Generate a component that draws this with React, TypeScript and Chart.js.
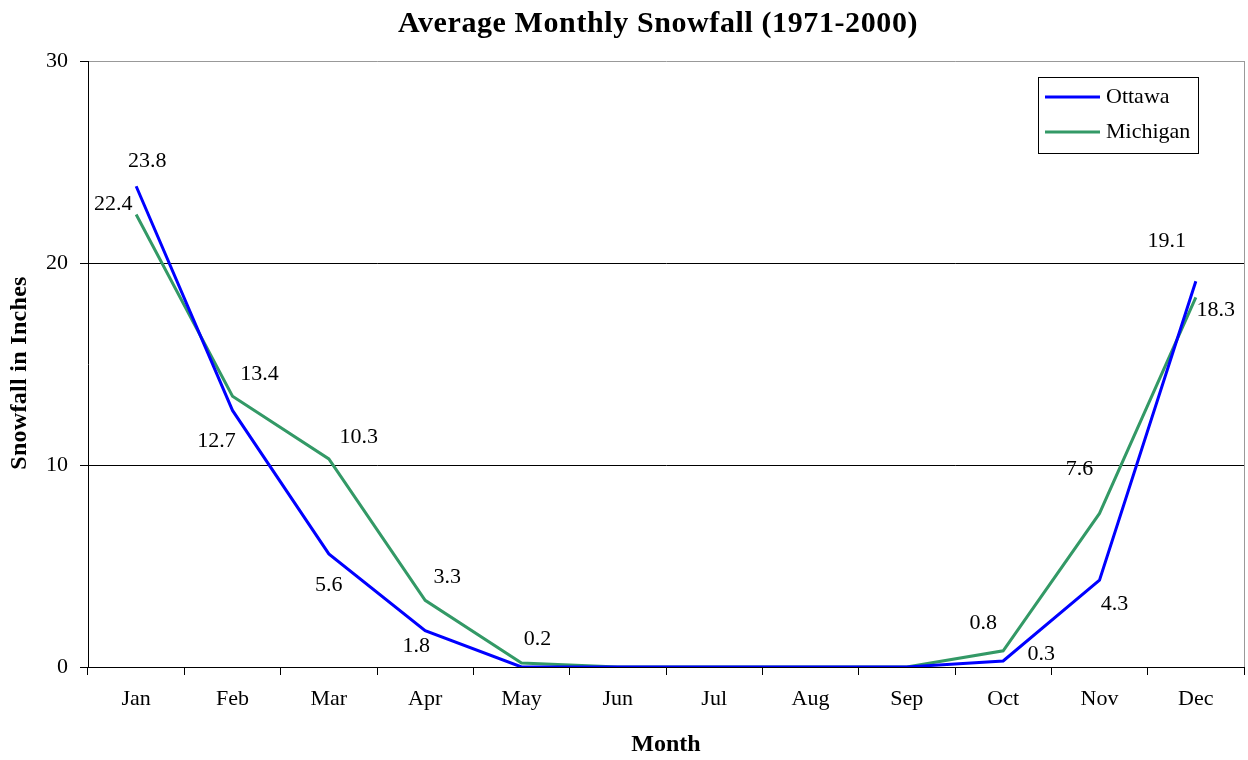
import React, { useEffect, useRef } from "react";
import { Chart, registerables } from "chart.js";

Chart.register(...registerables);

const months = ["Jan", "Feb", "Mar", "Apr", "May", "Jun", "Jul", "Aug", "Sep", "Oct", "Nov", "Dec"];
const ottawa = [23.8, 12.7, 5.6, 1.8, 0, 0, 0, 0, 0, 0.3, 4.3, 19.1];
const michigan = [22.4, 13.4, 10.3, 3.3, 0.2, 0, 0, 0, 0, 0.8, 7.6, 18.3];
const yTicks = [0, 10, 20, 30];

// label offsets (dx, dy) relative to each point; null = no label
const ottawaLabelOffsets: ([number, number] | null)[] = [
  [11, -25], [-16, 31], [0, 31], [-9, 16], null, null, null, null, null, [38, -7], [15, 24], [-29, -40],
];
const michiganLabelOffsets: ([number, number] | null)[] = [
  [-23, -10], [27, -22], [30, -22], [22, -23], [16, -24], null, null, null, null, [-20, -28], [-20, -44], [20, 13],
];

const SERIF = "'Liberation Serif', 'Times New Roman', serif";

const decorPlugin = {
  id: "decor",
  afterDraw(chart: any) {
    const ctx = chart.ctx;
    const ca = chart.chartArea;
    ctx.save();
    // right border
    ctx.strokeStyle = "#999";
    ctx.lineWidth = 1;
    ctx.beginPath();
    ctx.moveTo(Math.round(ca.right) + 0.5, ca.top);
    ctx.lineTo(Math.round(ca.right) + 0.5, ca.bottom);
    ctx.stroke();

    // data labels
    ctx.fillStyle = "#000";
    ctx.font = `22px ${SERIF}`;
    ctx.textAlign = "center";
    ctx.textBaseline = "middle";
    const offsetsList = [ottawaLabelOffsets, michiganLabelOffsets];
    chart.data.datasets.forEach((ds: any, di: number) => {
      const meta = chart.getDatasetMeta(di);
      meta.data.forEach((pt: any, i: number) => {
        const off = offsetsList[di][i];
        if (!off) return;
        ctx.fillText(String(ds.data[i]), pt.x + off[0], pt.y + off[1]);
      });
    });

    // legend
    const lx = 1038.5, ly = 77.5, lw = 160, lh = 76;
    ctx.strokeStyle = "#000";
    ctx.lineWidth = 1;
    ctx.strokeRect(lx, ly, lw, lh);
    chart.data.datasets.forEach((ds: any, di: number) => {
      const y = 97 + di * 35;
      ctx.strokeStyle = ds.borderColor;
      ctx.lineWidth = 3;
      ctx.beginPath();
      ctx.moveTo(1045, y);
      ctx.lineTo(1100, y);
      ctx.stroke();
      ctx.fillStyle = "#000";
      ctx.font = `22px ${SERIF}`;
      ctx.textAlign = "left";
      ctx.textBaseline = "middle";
      ctx.fillText(ds.label, 1106, y);
    });

    // titles
    ctx.fillStyle = "#000";
    ctx.textAlign = "center";
    ctx.textBaseline = "middle";
    ctx.font = `bold 30px ${SERIF}`;
    (ctx as any).letterSpacing = "0.6px";
    ctx.fillText("Average Monthly Snowfall (1971-2000)", 658, 24);
    ctx.font = `bold 24px ${SERIF}`;
    (ctx as any).letterSpacing = "0px";
    ctx.fillText("Month", 666, 745);
    (ctx as any).letterSpacing = "0.3px";
    ctx.translate(20, 373);
    ctx.rotate(-Math.PI / 2);
    ctx.fillText("Snowfall in Inches", 0, 0);
    (ctx as any).letterSpacing = "0px";
    ctx.restore();
  },
};

export default function App() {
  const ref = useRef<HTMLCanvasElement | null>(null);
  useEffect(() => {
    document.body.style.margin = "0";
    const canvas = ref.current!;
    const chart = new Chart(canvas, {
      type: "line",
      data: {
        labels: months,
        datasets: [
          { label: "Ottawa", data: ottawa, borderColor: "#0000FF", borderWidth: 3, pointRadius: 0, tension: 0, fill: false },
          { label: "Michigan", data: michigan, borderColor: "#339966", borderWidth: 3, pointRadius: 0, tension: 0, fill: false },
        ],
      },
      options: {
        animation: false,
        responsive: false,
        devicePixelRatio: 1,
        layout: { padding: { left: 0, right: 4, top: 61, bottom: 0 } },
        plugins: { legend: { display: false }, title: { display: false }, tooltip: { enabled: false } },
        scales: {
          x: {
            type: "category",
            offset: true,
            grid: { offset: true, drawOnChartArea: false, tickLength: 8, color: "#000", tickColor: "#000" },
            border: { color: "#000", width: 1 },
            ticks: { color: "#000", font: { family: SERIF, size: 22 }, padding: 11, maxRotation: 0, autoSkip: false },
            afterFit: (s: any) => { s.height = 93; },
          },
          y: {
            min: 0,
            max: 30,
            afterBuildTicks: (s: any) => { s.ticks = yTicks.map((v) => ({ value: v })); },
            grid: {
              color: (c: any) => (c.tick && c.tick.value === 30 ? "#999" : "#000"),
              tickColor: "#000",
              tickLength: 8,
              lineWidth: 1,
            },
            border: { color: "#000", width: 1 },
            ticks: { color: "#000", font: { family: SERIF, size: 22 }, padding: 12 },
            afterFit: (s: any) => { s.width = 88; },
          },
        },
      },
      plugins: [decorPlugin],
    });
    return () => chart.destroy();
  }, []);
  return <canvas ref={ref} width={1248} height={760} style={{ display: "block", width: 1248, height: 760 }} />;
}
